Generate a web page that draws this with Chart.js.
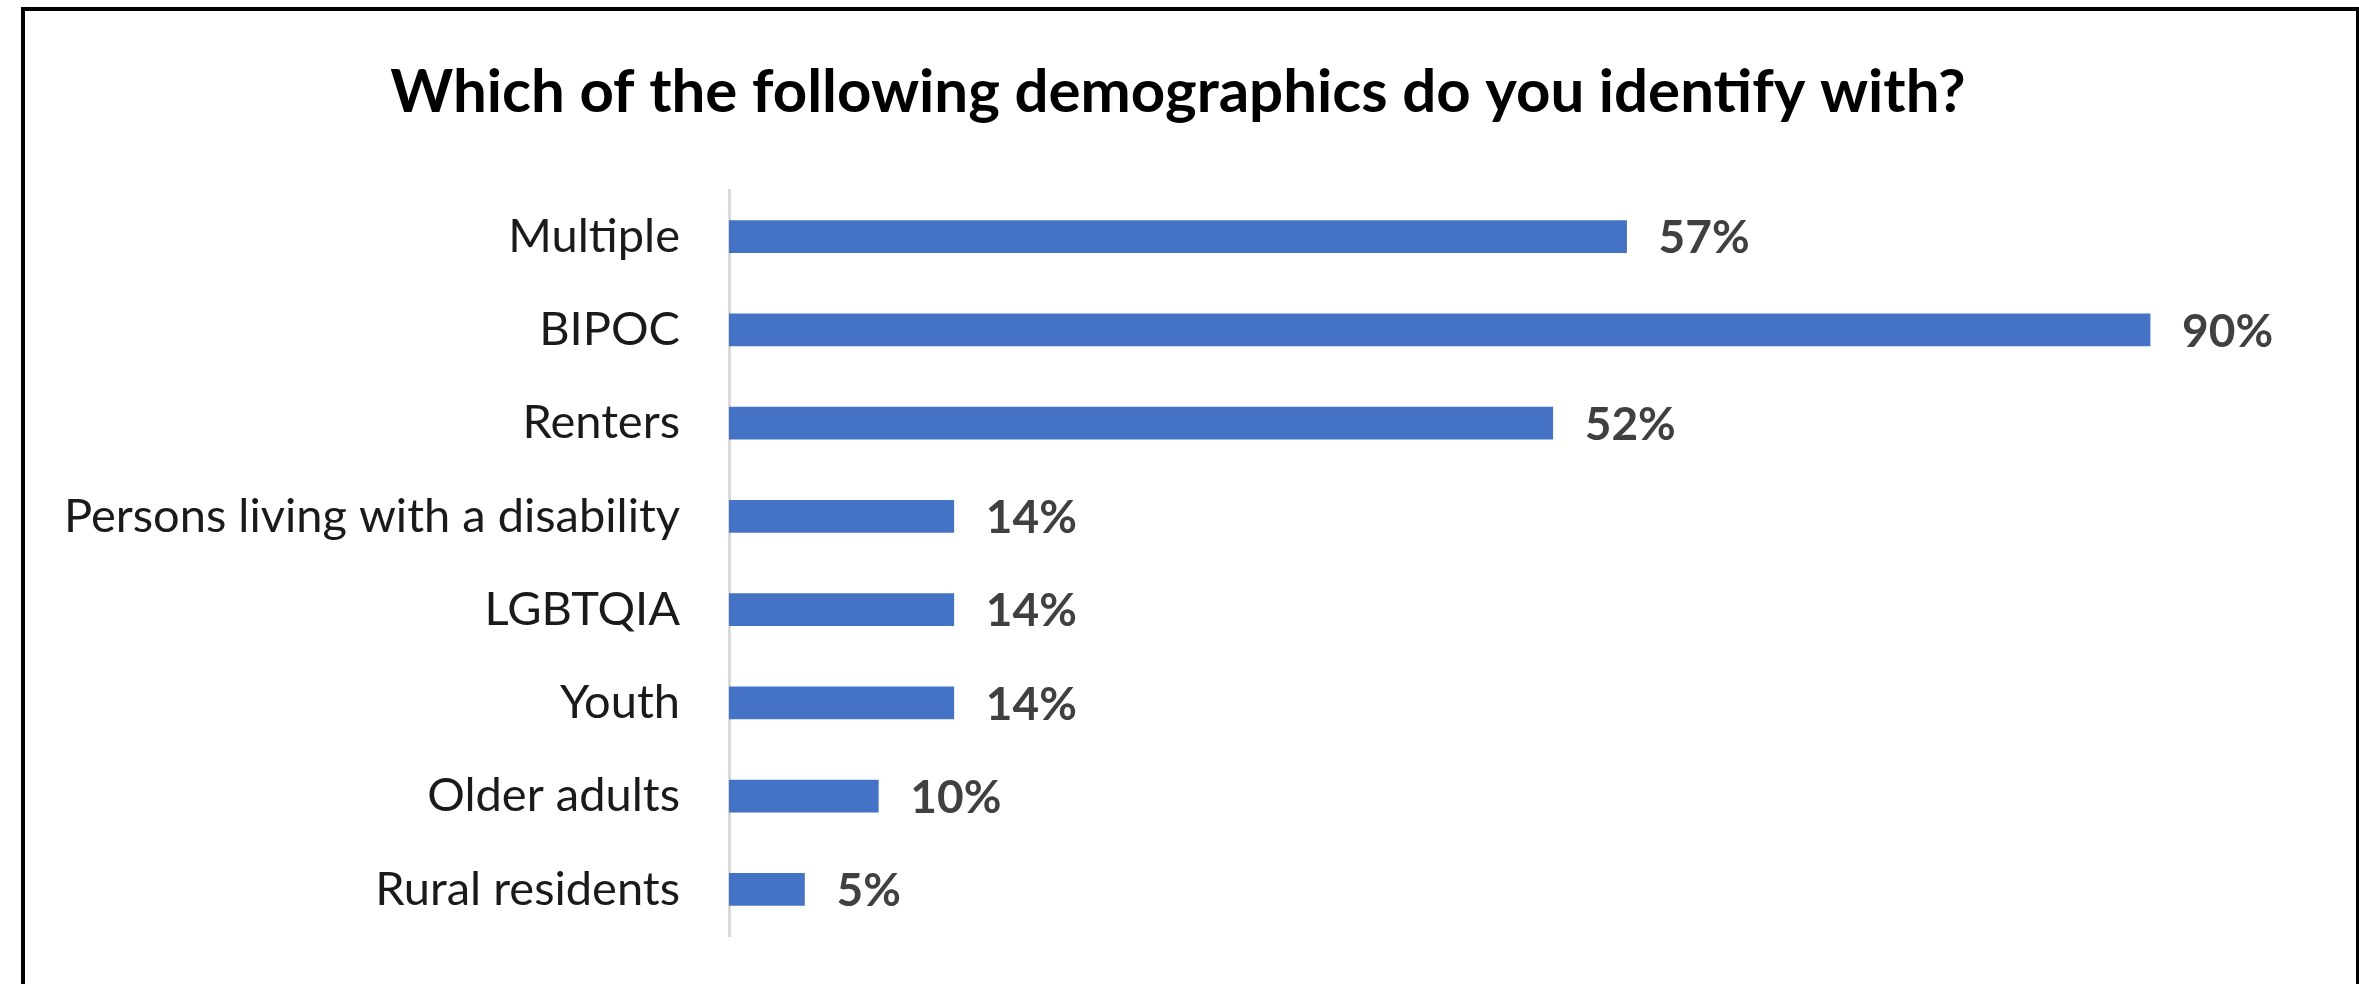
<!DOCTYPE html>
<html lang="en">
<head>
  <meta charset="UTF-8" />
  <title>Demographics</title>
  <script src="https://cdn.jsdelivr.net/npm/chart.js"></script>
  <style>
    html, body { margin: 0; padding: 0; background: #fff; overflow: hidden; }
    .frame {
      position: absolute;
      left: 21px;
      top: 7px;
      width: 2331px;
      height: 1100px;
      border: 4px solid #000;
      background: #fff;
    }
    canvas { display: block; }
  </style>
</head>
<body>

  <div class="frame">
    <canvas id="demoChart" width="2331" height="973"></canvas>
  </div>

  <script>
    const categories = [
      'Multiple',
      'BIPOC',
      'Renters',
      'Persons living with a disability',
      'LGBTQIA',
      'Youth',
      'Older adults',
      'Rural residents'
    ];
    // share of respondents, percent
    const shares = [57.1, 90.4, 52.4, 14.3, 14.3, 14.3, 9.5, 4.8];
    const titleText = 'Which of the following demographics do you identify with?';

    const fontFamily = 'Lato, "Open Sans", sans-serif';

    // draws the "57%" style labels at the end of each bar
    const valueLabels = {
      id: 'valueLabels',
      afterDatasetsDraw(chart) {
        const ctx = chart.ctx;
        const meta = chart.getDatasetMeta(0);
        ctx.save();
        ctx.font = 'bold 46px ' + fontFamily;
        ctx.fillStyle = '#404040';
        ctx.textAlign = 'left';
        ctx.textBaseline = 'middle';
        meta.data.forEach((bar, i) => {
          ctx.fillText(Math.round(shares[i]) + '%', bar.x + 32, bar.y + 2);
        });
        ctx.restore();
      }
    };

    const ctx = document.getElementById('demoChart').getContext('2d');
    const demoChart = new Chart(ctx, {
      type: 'bar',
      data: {
        labels: categories,
        datasets: [
          {
            data: shares,
            backgroundColor: '#4472c4',
            borderWidth: 0,
            barThickness: 32
          }
        ]
      },
      options: {
        indexAxis: 'y',
        responsive: false,
        devicePixelRatio: 1,
        animation: false,
        layout: {
          padding: { top: 0, right: 55, bottom: 48, left: 30 }
        },
        plugins: {
          legend: { display: false },
          tooltip: { enabled: false },
          title: {
            display: true,
            text: titleText,
            color: '#000',
            font: { family: fontFamily, size: 60, weight: 'bold', lineHeight: 1.2 },
            padding: { top: 46, bottom: 61 }
          }
        },
        scales: {
          x: {
            display: false,
            min: 0,
            max: 100
          },
          y: {
            z: 1,
            grid: {
              display: true,
              drawOnChartArea: false,
              drawTicks: true,
              tickLength: 49,
              tickColor: 'rgba(0,0,0,0)'
            },
            border: { display: true, color: '#d9d9d9', width: 3 },
            ticks: {
              color: '#1a1a1a',
              padding: 0,
              font: { family: fontFamily, size: 47 }
            },
            afterFit(scale) {
              scale.width = 674;
            }
          }
        }
      },
      plugins: [valueLabels]
    });
  </script>
</body>
</html>
